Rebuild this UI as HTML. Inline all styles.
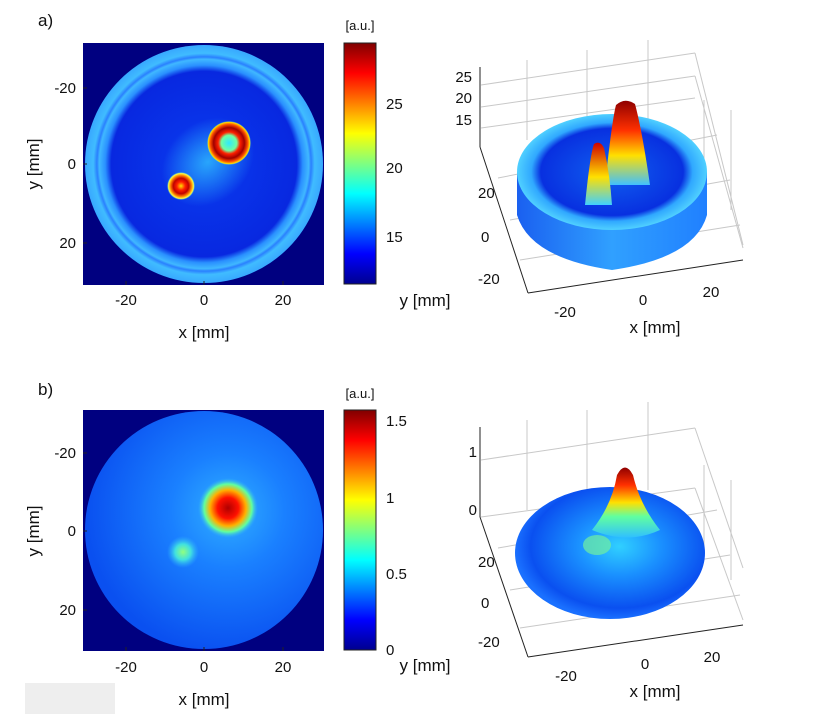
<!DOCTYPE html>
<html><head><meta charset="utf-8"><style>
body{margin:0;background:#fff;width:820px;height:718px;overflow:hidden;font-family:"Liberation Sans",sans-serif;}
svg text{font-family:"Liberation Sans",sans-serif;font-size:15px;fill:#111}
</style></head><body>
<svg width="820" height="718" viewBox="0 0 820 718" xmlns="http://www.w3.org/2000/svg">
<defs>
<linearGradient id="jet" x1="0" y1="1" x2="0" y2="0">
<stop offset="0" stop-color="#00008f"/><stop offset="0.125" stop-color="#0000ff"/>
<stop offset="0.375" stop-color="#00ffff"/><stop offset="0.625" stop-color="#ffff00"/>
<stop offset="0.875" stop-color="#ff0000"/><stop offset="1" stop-color="#800000"/>
</linearGradient>
<radialGradient id="discA" cx="0.5" cy="0.5" r="0.5">
<stop offset="0" stop-color="#0a3cf0"/><stop offset="0.78" stop-color="#0828e0"/>
<stop offset="0.83" stop-color="#2a90ff"/><stop offset="0.88" stop-color="#40b8ff"/><stop offset="0.9" stop-color="#2a80ff"/><stop offset="0.93" stop-color="#40bcff"/><stop offset="1" stop-color="#38a8ff"/>
</radialGradient>
<radialGradient id="haloA" cx="0.5" cy="0.5" r="0.5">
<stop offset="0" stop-color="#30c0ff" stop-opacity="0.8"/><stop offset="1" stop-color="#30c0ff" stop-opacity="0"/>
</radialGradient>
<radialGradient id="ringA" cx="0.5" cy="0.5" r="0.5">
<stop offset="0" stop-color="#30e8ff"/><stop offset="0.35" stop-color="#70ffa0"/><stop offset="0.5" stop-color="#ff2000"/>
<stop offset="0.7" stop-color="#a00000"/><stop offset="0.85" stop-color="#ff5000"/><stop offset="0.95" stop-color="#ffe000"/><stop offset="1" stop-color="#40e0ff" stop-opacity="0"/>
</radialGradient>
<radialGradient id="spotA" cx="0.5" cy="0.5" r="0.5">
<stop offset="0" stop-color="#ffe000"/><stop offset="0.3" stop-color="#ff2000"/><stop offset="0.55" stop-color="#c00000"/><stop offset="0.75" stop-color="#ff8000"/>
<stop offset="0.9" stop-color="#ffff40"/><stop offset="1" stop-color="#40e0ff" stop-opacity="0"/>
</radialGradient>
<radialGradient id="discB" cx="0.6" cy="0.42" r="0.6">
<stop offset="0" stop-color="#30b0ff"/><stop offset="0.4" stop-color="#1a80ff"/><stop offset="1" stop-color="#0a50f0"/>
</radialGradient>
<radialGradient id="spotB" cx="0.5" cy="0.5" r="0.5">
<stop offset="0" stop-color="#b00000"/><stop offset="0.35" stop-color="#ff1000"/><stop offset="0.6" stop-color="#ffb000"/>
<stop offset="0.8" stop-color="#60ffa0"/><stop offset="1" stop-color="#30b0ff" stop-opacity="0"/>
</radialGradient>
<radialGradient id="spotB2" cx="0.5" cy="0.5" r="0.5">
<stop offset="0" stop-color="#90ff80"/><stop offset="0.5" stop-color="#40e0e0"/><stop offset="1" stop-color="#30b0ff" stop-opacity="0"/>
</radialGradient>
<linearGradient id="wall" x1="0" y1="0" x2="1" y2="0">
<stop offset="0" stop-color="#1a60f0"/><stop offset="0.5" stop-color="#30a0ff"/><stop offset="1" stop-color="#2080ff"/>
</linearGradient>
<radialGradient id="topA" cx="0.5" cy="0.5" r="0.5">
<stop offset="0" stop-color="#1060f0"/><stop offset="0.75" stop-color="#0830e0"/><stop offset="0.85" stop-color="#30a8ff"/><stop offset="1" stop-color="#50d0ff"/>
</radialGradient>
<radialGradient id="topB" cx="0.55" cy="0.45" r="0.55">
<stop offset="0" stop-color="#30d0ff"/><stop offset="0.4" stop-color="#1a90ff"/><stop offset="0.85" stop-color="#0a50f0"/><stop offset="1" stop-color="#1a70ff"/>
</radialGradient>
<linearGradient id="peak" x1="0" y1="1" x2="0" y2="0">
<stop offset="0" stop-color="#40c0ff"/><stop offset="0.35" stop-color="#ffe000"/><stop offset="0.65" stop-color="#ff3000"/><stop offset="1" stop-color="#900000"/>
</linearGradient>
<linearGradient id="peakB" x1="0" y1="1" x2="0" y2="0">
<stop offset="0" stop-color="#30c0ff"/><stop offset="0.3" stop-color="#60ffa0"/><stop offset="0.5" stop-color="#ffe000"/><stop offset="0.75" stop-color="#ff3000"/><stop offset="1" stop-color="#900000"/>
</linearGradient>
<linearGradient id="peakS" x1="0" y1="1" x2="0" y2="0">
<stop offset="0" stop-color="#40d0ff"/><stop offset="0.45" stop-color="#ffe000"/><stop offset="1" stop-color="#d00000"/>
</linearGradient>
</defs>

<text x="38" y="26" style="font-size:17px">a)</text>
<text x="38" y="395" style="font-size:17px">b)</text>

<!-- panel a map -->
<rect x="83" y="43" width="241" height="242" fill="#000080"/>
<circle cx="204" cy="164" r="119" fill="url(#discA)"/>
<ellipse cx="208" cy="162" rx="50" ry="40" fill="url(#haloA)" transform="rotate(-40 208 162)"/>
<circle cx="229" cy="143" r="22" fill="url(#ringA)"/>
<circle cx="181" cy="186" r="14" fill="url(#spotA)"/>
<g stroke="#222" stroke-width="1">
<line x1="126" y1="285" x2="126" y2="281"/><line x1="204" y1="285" x2="204" y2="281"/><line x1="283" y1="285" x2="283" y2="281"/>
<line x1="83" y1="88" x2="87" y2="88"/><line x1="83" y1="164" x2="87" y2="164"/><line x1="83" y1="243" x2="87" y2="243"/>
</g>
<text x="126" y="305" text-anchor="middle">-20</text><text x="204" y="305" text-anchor="middle">0</text><text x="283" y="305" text-anchor="middle">20</text>
<text x="76" y="93" text-anchor="end">-20</text><text x="76" y="169" text-anchor="end">0</text><text x="76" y="248" text-anchor="end">20</text>
<text x="204" y="338" text-anchor="middle" style="font-size:17px">x [mm]</text>
<text transform="translate(39,164) rotate(-90)" text-anchor="middle" style="font-size:17px">y [mm]</text>
<rect x="344" y="43" width="32" height="241" fill="url(#jet)" stroke="#222"/>
<text x="360" y="30" text-anchor="middle" style="font-size:13px">[a.u.]</text>
<text x="386" y="109">25</text><text x="386" y="173">20</text><text x="386" y="242">15</text>

<!-- panel b map -->
<rect x="83" y="410" width="241" height="241" fill="#000080"/>
<circle cx="204" cy="530" r="119" fill="url(#discB)"/>
<circle cx="228" cy="508" r="30" fill="url(#spotB)"/>
<circle cx="183" cy="552" r="16" fill="url(#spotB2)"/>
<g stroke="#222" stroke-width="1">
<line x1="126" y1="651" x2="126" y2="647"/><line x1="204" y1="651" x2="204" y2="647"/><line x1="283" y1="651" x2="283" y2="647"/>
<line x1="83" y1="453" x2="87" y2="453"/><line x1="83" y1="531" x2="87" y2="531"/><line x1="83" y1="610" x2="87" y2="610"/>
</g>
<text x="126" y="672" text-anchor="middle">-20</text><text x="204" y="672" text-anchor="middle">0</text><text x="283" y="672" text-anchor="middle">20</text>
<text x="76" y="458" text-anchor="end">-20</text><text x="76" y="536" text-anchor="end">0</text><text x="76" y="615" text-anchor="end">20</text>
<text x="204" y="705" text-anchor="middle" style="font-size:17px">x [mm]</text>
<text transform="translate(39,531) rotate(-90)" text-anchor="middle" style="font-size:17px">y [mm]</text>
<rect x="344" y="410" width="32" height="240" fill="url(#jet)" stroke="#222"/>
<text x="360" y="398" text-anchor="middle" style="font-size:13px">[a.u.]</text>
<text x="386" y="426">1.5</text><text x="386" y="503">1</text><text x="386" y="579">0.5</text><text x="386" y="655">0</text>

<rect x="25" y="683" width="90" height="31" fill="#eeeeee"/>

<!-- 3D a -->
<g stroke="#c8c8c8" stroke-width="1" fill="none">
<line x1="481" y1="85" x2="695" y2="53"/><line x1="481" y1="107" x2="695" y2="76"/><line x1="481" y1="128" x2="695" y2="98"/>
<line x1="695" y1="53" x2="743" y2="245"/><line x1="695" y1="76" x2="743" y2="248"/>
<line x1="527" y1="140" x2="527" y2="60"/><line x1="587" y1="130" x2="587" y2="50"/><line x1="648" y1="120" x2="648" y2="40"/>
<line x1="704" y1="100" x2="704" y2="180"/><line x1="731" y1="110" x2="731" y2="210"/>
<line x1="498" y1="178" x2="717" y2="135"/><line x1="510" y1="220" x2="730" y2="180"/><line x1="520" y1="260" x2="740" y2="225"/>
</g>
<path d="M517,172 L517,215 Q530,258 612,270 Q695,258 707,215 L707,172 Z" fill="url(#wall)"/>
<ellipse cx="612" cy="172" rx="95" ry="58" fill="url(#topA)"/>
<path d="M605,185 Q612,120 616,105 Q625,97 635,104 Q642,130 650,185 Z" fill="url(#peak)"/>
<path d="M585,205 Q590,155 594,144 Q600,140 604,148 Q610,175 612,205 Z" fill="url(#peakS)"/>
<g stroke="#222" fill="none">
<line x1="480" y1="67" x2="480" y2="147"/>
<line x1="480" y1="147" x2="528" y2="293"/><line x1="528" y1="293" x2="743" y2="260"/>
</g>
<text x="472" y="82" text-anchor="end">25</text><text x="472" y="103" text-anchor="end">20</text><text x="472" y="125" text-anchor="end">15</text>
<text x="478" y="198">20</text><text x="481" y="242">0</text><text x="478" y="284">-20</text>
<text x="565" y="317" text-anchor="middle">-20</text><text x="643" y="305" text-anchor="middle">0</text><text x="711" y="297" text-anchor="middle">20</text>
<text x="655" y="333" text-anchor="middle" style="font-size:17px">x [mm]</text>
<text x="425" y="306" text-anchor="middle" style="font-size:17px">y [mm]</text>

<!-- 3D b -->
<g stroke="#c8c8c8" stroke-width="1" fill="none">
<line x1="481" y1="460" x2="695" y2="428"/><line x1="481" y1="517" x2="695" y2="488"/>
<line x1="695" y1="428" x2="743" y2="568"/><line x1="695" y1="488" x2="743" y2="620"/>
<line x1="527" y1="510" x2="527" y2="420"/><line x1="587" y1="500" x2="587" y2="410"/><line x1="648" y1="490" x2="648" y2="402"/>
<line x1="704" y1="465" x2="704" y2="560"/><line x1="731" y1="480" x2="731" y2="580"/>
<line x1="498" y1="548" x2="717" y2="510"/><line x1="510" y1="590" x2="730" y2="555"/><line x1="520" y1="628" x2="740" y2="595"/>
</g>
<ellipse cx="610" cy="553" rx="95" ry="66" fill="url(#topB)"/>
<path d="M592,530 Q612,505 617,475 Q625,460 633,475 Q640,505 660,530 Q628,545 592,530 Z" fill="url(#peakB)"/>
<ellipse cx="597" cy="545" rx="14" ry="10" fill="#70f0a0" opacity="0.7"/>
<g stroke="#222" fill="none">
<line x1="480" y1="427" x2="480" y2="517"/>
<line x1="480" y1="517" x2="528" y2="657"/><line x1="528" y1="657" x2="743" y2="625"/>
</g>
<text x="477" y="457" text-anchor="end">1</text><text x="477" y="515" text-anchor="end">0</text>
<text x="478" y="567">20</text><text x="481" y="608">0</text><text x="478" y="647">-20</text>
<text x="566" y="681" text-anchor="middle">-20</text><text x="645" y="669" text-anchor="middle">0</text><text x="712" y="662" text-anchor="middle">20</text>
<text x="655" y="697" text-anchor="middle" style="font-size:17px">x [mm]</text>
<text x="425" y="671" text-anchor="middle" style="font-size:17px">y [mm]</text>
</svg>
</body></html>
